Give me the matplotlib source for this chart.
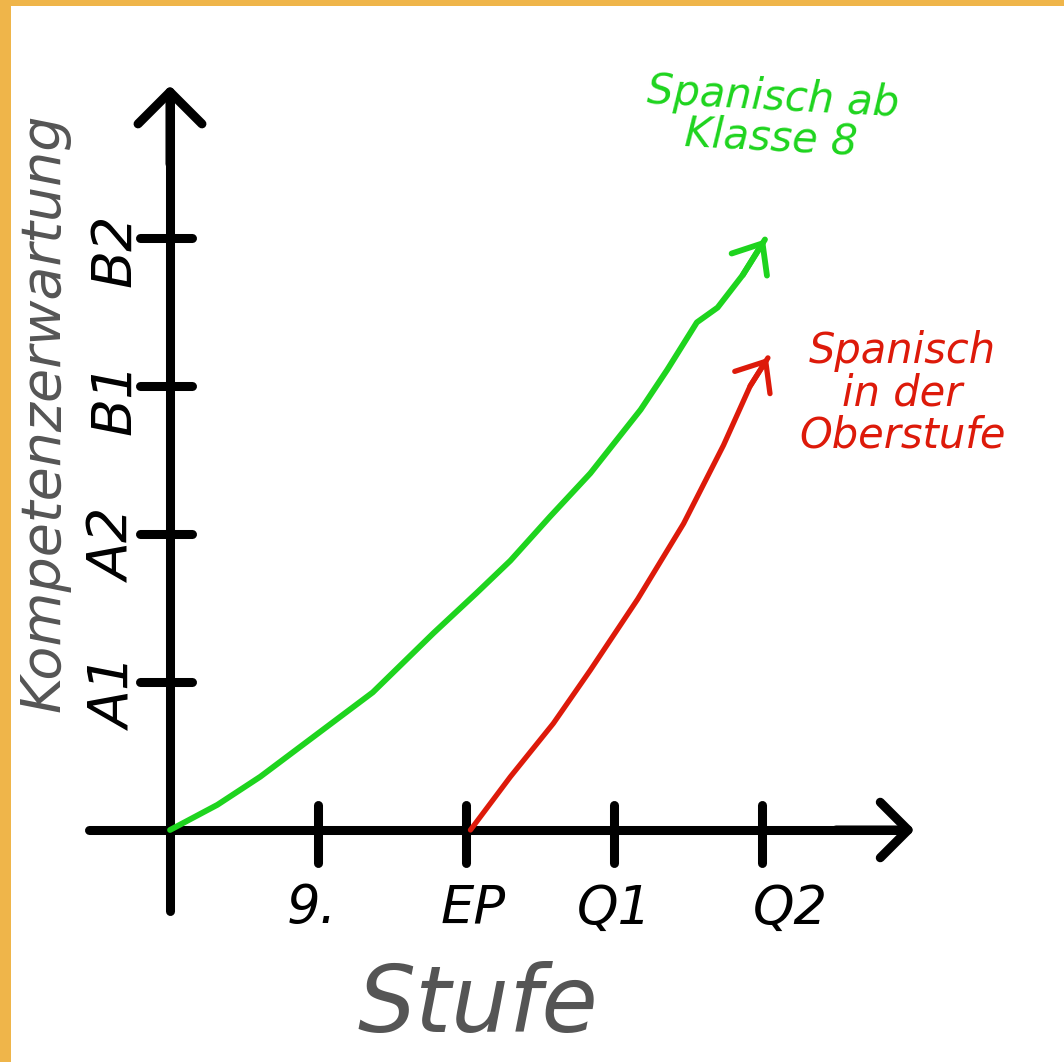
import matplotlib
matplotlib.use("Agg")
import matplotlib.pyplot as plt
from matplotlib.patches import Rectangle

# ---- data ----
x_tick_labels = ['9.', 'EP', 'Q1', 'Q2']
x_tick_pos = [1, 2, 3, 4]
y_tick_labels = ['A1', 'A2', 'B1', 'B2']
y_tick_pos = [1, 2, 3, 4]

green_x = [0.0, 0.32, 0.61, 1.01, 1.37, 1.78, 2.07, 2.30, 2.57, 2.84, 3.18, 3.36, 3.56, 3.70, 3.87, 4.02]
green_y = [0.0, 0.17, 0.36, 0.66, 0.93, 1.33, 1.60, 1.82, 2.12, 2.41, 2.84, 3.11, 3.43, 3.53, 3.75, 3.99]
red_x = [2.03, 2.30, 2.59, 2.84, 3.16, 3.47, 3.74, 3.92, 4.04]
red_y = [0.0, 0.36, 0.72, 1.08, 1.56, 2.07, 2.60, 3.00, 3.19]

green_label = 'Spanisch ab\nKlasse 8'
red_label = 'Spanisch\nin der\nOberstufe'
x_title = 'Stufe'
y_title = 'Kompetenzerwartung'

# ---- figure ----
W, H = 1064, 1062
fig = plt.figure(figsize=(W / 100, H / 100), dpi=100)
fig.patch.set_facecolor('white')
ax = fig.add_axes([0, 0, 1, 1])
ox, oy, unit = 170, 830, 148
ax.set_xlim(-ox / unit, (W - ox) / unit)
ax.set_ylim((oy - H) / unit, oy / unit)
ax.axis('off')

# orange frame
fig.patches.append(Rectangle((0, 0), 11 / W, 1, transform=fig.transFigure,
                             facecolor='#EFB54A', edgecolor='none', zorder=10))
fig.patches.append(Rectangle((0, 1 - 6 / H), 1, 6 / H, transform=fig.transFigure,
                             facecolor='#EFB54A', edgecolor='none', zorder=10))

black = '#000000'
axis_lw = 6.5

# axes lines with arrows
ax.plot([-0.55, 4.95], [0, 0], color=black, lw=axis_lw, solid_capstyle='round', zorder=3)
ax.plot([0, 0], [-0.55, 4.95], color=black, lw=axis_lw, solid_capstyle='round', zorder=3)
ax.annotate('', xy=(5.03, 0), xytext=(4.5, 0),
            arrowprops=dict(arrowstyle='->,head_length=1.0,head_width=1.0',
                            lw=axis_lw, color=black, mutation_scale=20,
                            capstyle='round', joinstyle='round', shrinkA=0, shrinkB=0), zorder=3)
ax.annotate('', xy=(0, 5.03), xytext=(0, 4.5),
            arrowprops=dict(arrowstyle='->,head_length=1.15,head_width=1.15',
                            lw=axis_lw, color=black, mutation_scale=20,
                            capstyle='round', joinstyle='round', shrinkA=0, shrinkB=0), zorder=3)

# ticks
for xp in x_tick_pos:
    ax.plot([xp, xp], [-0.22, 0.17], color=black, lw=axis_lw, solid_capstyle='round', zorder=3)
for yp in y_tick_pos:
    ax.plot([-0.2, 0.15], [yp, yp], color=black, lw=axis_lw, solid_capstyle='round', zorder=3)

font = 'DejaVu Sans'
x_offsets = {'9.': -0.04, 'EP': 0.05, 'Q1': 0.0, 'Q2': 0.19}
for xp, lab in zip(x_tick_pos, x_tick_labels):
    ax.text(xp + x_offsets[lab], -0.53, lab, ha='center', va='center',
            fontsize=38, color=black, family=font, style='italic')
for yp, lab in zip(y_tick_pos, y_tick_labels):
    ax.text(-0.37, yp - 0.08, lab, ha='center', va='center', rotation=90,
            fontsize=40, color=black, family=font, style='italic')

# curves
green = '#1ED41E'
red = '#DD1A0A'
ax.plot(green_x, green_y, color=green, lw=4.2, solid_capstyle='round',
        solid_joinstyle='round', zorder=4)
ax.annotate('', xy=(green_x[-1], green_y[-1]), xytext=(green_x[-2], green_y[-2]),
            arrowprops=dict(arrowstyle='->,head_length=0.9,head_width=0.75',
                            lw=4.2, color=green, mutation_scale=20,
                            shrinkA=0, shrinkB=0), zorder=4)
ax.plot(red_x, red_y, color=red, lw=3.8, solid_capstyle='round',
        solid_joinstyle='round', zorder=4)
ax.annotate('', xy=(red_x[-1], red_y[-1]), xytext=(red_x[-2], red_y[-2]),
            arrowprops=dict(arrowstyle='->,head_length=0.9,head_width=0.75',
                            lw=3.8, color=red, mutation_scale=20,
                            shrinkA=0, shrinkB=0), zorder=4)

# labels
ax.text(4.07, 4.81, green_label, ha='center', va='center', fontsize=30,
        color=green, family=font, style='italic', rotation=-3, linespacing=0.95)
ax.text(4.95, 2.95, red_label, ha='center', va='center', fontsize=30,
        color=red, family=font, style='italic', linespacing=1.0)

gray = '#555555'
ax.text(2.08, -1.19, x_title, ha='center', va='center', fontsize=66,
        color=gray, family=font, style='italic')
ax.text(-0.85, 2.82, y_title, ha='center', va='center', rotation=90,
        fontsize=40, color=gray, family=font, style='italic')

fig.savefig('out.png', dpi=100, facecolor='white')
